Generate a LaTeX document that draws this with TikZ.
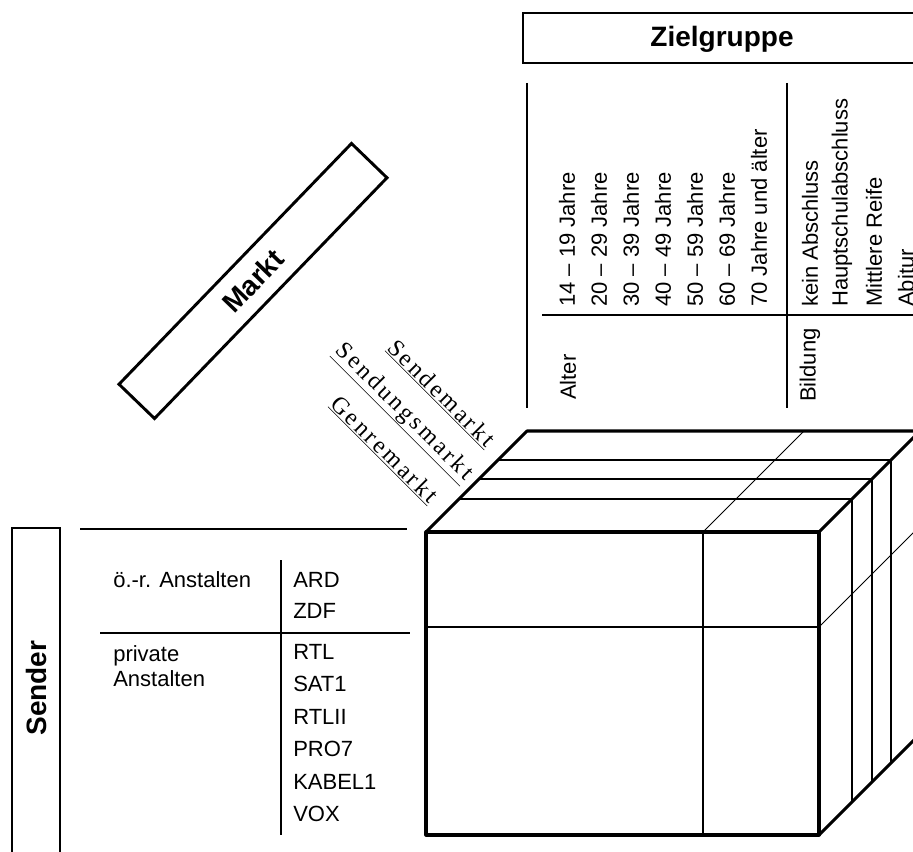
\documentclass[tikz,border=0pt]{standalone}
\usepackage{fontspec}
\setmainfont{Liberation Sans}
\newfontfamily\marktfont[LetterSpace=12]{Liberation Serif}
\usetikzlibrary{positioning,calc}

\tikzset{
	boxline/.style={line width=2.2pt},
	titletext/.style={font=\fontsize{21}{24}\selectfont\bfseries,inner sep=0pt},
	tabline/.style={line width=1.1pt},
	cubeedge/.style={line width=2.3pt,line join=round},
	cubeslice/.style={line width=1.3pt},
	cubethin/.style={line width=0.6pt},
	entry/.style={font=\fontsize{16.5}{19}\selectfont,inner sep=0pt,anchor=west},
	ventry/.style={entry,rotate=90},
	marktlabel/.style={font=\marktfont\fontsize{18}{20}\selectfont,rotate=-45,inner sep=1pt}
}

\begin{document}
\begin{tikzpicture}[x=0.75pt,y=-0.75pt]
	\useasboundingbox (0,0) rectangle (913,852);
	\clip (0,0) rectangle (913,852);

	% Zielgruppe
	\draw[boxline] (523,13) rectangle (921,63);
	\node[titletext] (ziel) at (722,39) {Zielgruppe};
	\draw[tabline] (527,83) -- (527,408);
	\draw[tabline] (787,83) -- (787,408);
	\draw[tabline] (542,315) -- (930,315);
	\node[ventry] (alter) at (568,400) {Alter};
	\foreach \t [count=\i from 0] in {14 – 19 Jahre,20 – 29 Jahre,30 – 39 Jahre,40 – 49 Jahre,50 – 59 Jahre,60 – 69 Jahre,70 Jahre und älter}
		\node[ventry] (age\i) at (567+32*\i,307) {\t};
	\node[ventry] (bildung) at (810,402) {Bildung};
	\foreach \t [count=\i from 0] in {kein Abschluss,Hauptschulabschluss,Mittlere Reife,Abitur}
		\node[ventry] (abschl\i) at (810+32*\i,307) {\t};

	% Markt
	\node[draw,boxline,titletext,rotate=46,minimum width=251pt,minimum height=37pt] (markt) at (253,281) {Markt};
	\node[marktlabel] (sendemarkt) at (441,394) {\underline{Sendemarkt}};
	\node[marktlabel] (sendungsmarkt) at (403,413) {\underline{Sendungsmarkt}};
	\node[marktlabel] (genremarkt) at (384,450) {\underline{Genremarkt}};

	% Sender
	\draw[boxline] (12,528) rectangle (60,880);
	\node[titletext,rotate=90] (sender) at (36,688) {Sender};
	\draw[tabline] (80,529) -- (407,529);
	\draw[tabline] (281,560) -- (281,835);
	\draw[tabline] (100,633) -- (410,633);
	\node[entry] (oer) at (113,580) {ö.-r. Anstalten};
	\node[entry,align=left] (privat) at (113,666) {private\\Anstalten};
	\node[entry] (ard) at (293,580) {ARD};
	\node[entry] (zdf) at (293,611) {ZDF};
	\foreach \s [count=\i from 0] in {RTL,SAT1,RTLII,PRO7,KABEL1,VOX}
		\node[entry] (sender\i) at (293,652+32.4*\i) {\s};

	% Wuerfel
	\coordinate (F1) at (426,532);
	\coordinate (F2) at (819,532);
	\coordinate (F3) at (819,835);
	\coordinate (B1) at (527,431);
	\coordinate (B2) at (920,431);
	\coordinate (B3) at (920,734);
	\foreach \d in {33,53,72}
		\draw[cubeslice] ($(F1)+(\d,-\d)$) -- ($(F2)+(\d,-\d)$) -- ($(F3)+(\d,-\d)$);
	\draw[cubeslice] (703,532) -- (703,835);
	\draw[cubeslice] (426,627) -- (819,627);
	\draw[cubethin] (703,532) -- (804,431);
	\draw[cubethin] (819,627) -- (920,526);
	\draw[cubeedge] (F1) rectangle (F3);
	\draw[cubeedge] (F1) -- (B1) -- (B2) -- (F2);
	\draw[cubeedge] (B2) -- (B3) -- (F3);
\end{tikzpicture}
\end{document}
